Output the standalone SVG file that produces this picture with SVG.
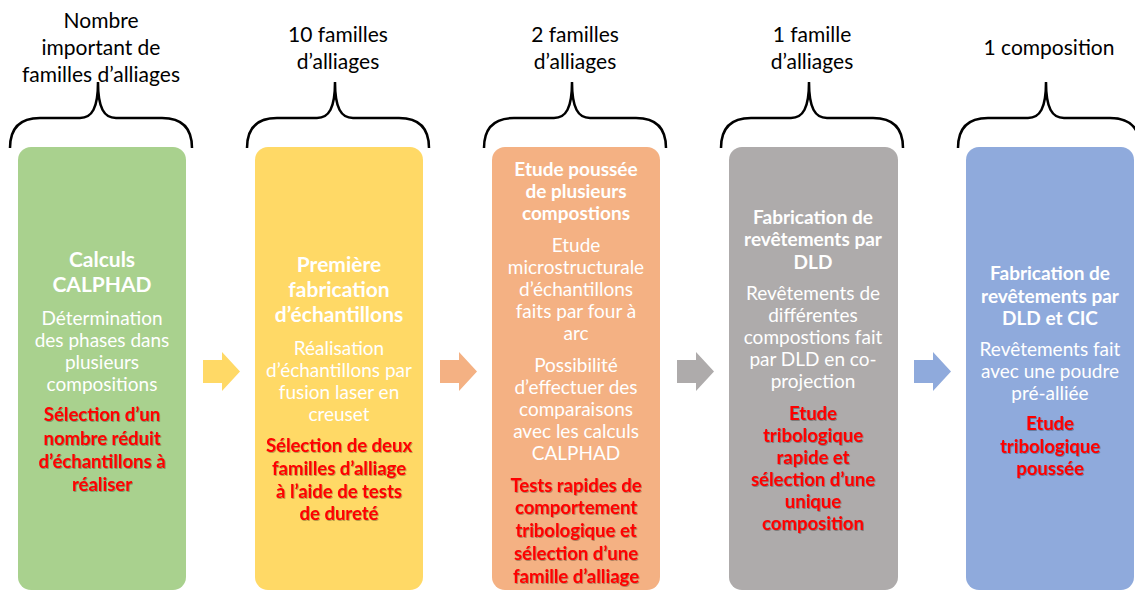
<svg xmlns="http://www.w3.org/2000/svg" width="1135" height="592" viewBox="0 0 1135 592">
<defs>
<filter id="sh" x="-10%" y="-10%" width="120%" height="130%">
<feDropShadow dx="0.8" dy="0.8" stdDeviation="0.6" flood-color="#000" flood-opacity="0.35"/>
</filter>
</defs>
<style>
text{font-family:Lato,"Open Sans","Liberation Sans",sans-serif;text-anchor:middle}
.lbl{font-size:21px;fill:#000}
.ttl{font-weight:bold;fill:#fff}
.t22{font-size:21px}
.t20{font-size:19px}
.body{font-size:19px;fill:#fff}
.red{font-size:18.5px;font-weight:bold;fill:#ff0000;filter:url(#sh)}
.brace{fill:none;stroke:#000;stroke-width:2.5}
</style>
<rect width="1135" height="592" fill="#fff"/>

<g id="braces">
<path class="brace" d="M10,148 C10,128 20,118 40,118 L80,118 C92,118 98,108 98,82 C98,108 104,118 116,118 L162,118 C182,118 192,128 192,148"/>
<path class="brace" d="M247,148 C247,128 257,118 277,118 L317,118 C329,118 335,108 335,82 C335,108 341,118 353,118 L399,118 C419,118 429,128 429,148"/>
<path class="brace" d="M484,148 C484,128 494,118 514,118 L554,118 C566,118 572,108 572,82 C572,108 578,118 590,118 L636,118 C656,118 666,128 666,148"/>
<path class="brace" d="M721,148 C721,128 731,118 751,118 L791,118 C803,118 809,108 809,82 C809,108 815,118 827,118 L873,118 C893,118 903,128 903,148"/>
<path class="brace" d="M958,148 C958,128 968,118 988,118 L1028,118 C1040,118 1046,108 1046,82 C1046,108 1052,118 1064,118 L1110,118 C1130,118 1140,128 1140,148"/>
</g>

<g id="labels">
<text class="lbl" x="101" y="28">Nombre</text>
<text class="lbl" x="101" y="55">important de</text>
<text class="lbl" x="101" y="82">familles d’alliages</text>
<text class="lbl" x="338" y="42">10 familles</text>
<text class="lbl" x="338" y="69">d’alliages</text>
<text class="lbl" x="575" y="42">2 familles</text>
<text class="lbl" x="575" y="69">d’alliages</text>
<text class="lbl" x="812" y="42">1 famille</text>
<text class="lbl" x="812" y="69">d’alliages</text>
<text class="lbl" x="1049" y="55">1 composition</text>
</g>

<g id="connectors">
<polygon fill="#FFD966" points="203,360 222,360 222,352 240,371.5 222,391 222,383 203,383"/>
<polygon fill="#F4B183" points="440,360 459,360 459,352 477,371.5 459,391 459,383 440,383"/>
<polygon fill="#AEABAB" points="677,360 696,360 696,352 714,371.5 696,391 696,383 677,383"/>
<polygon fill="#8FAADC" points="914,360 933,360 933,352 951,371.5 933,391 933,383 914,383"/>
</g>

<g id="node1">
<rect x="18" y="147" width="168" height="443" rx="13" fill="#A9D18E"/>
<text class="ttl t22" x="102" y="267">Calculs</text>
<text class="ttl t22" x="102" y="292">CALPHAD</text>
<text class="body" x="102" y="325">Détermination</text>
<text class="body" x="102" y="347">des phases dans</text>
<text class="body" x="102" y="369">plusieurs</text>
<text class="body" x="102" y="391">compositions</text>
<text class="red" x="102" y="421">Sélection d’un</text>
<text class="red" x="102" y="445">nombre réduit</text>
<text class="red" x="102" y="468">d’échantillons à</text>
<text class="red" x="102" y="491">réaliser</text>
</g>

<g id="node2">
<rect x="255" y="147" width="168" height="443" rx="13" fill="#FFD966"/>
<text class="ttl t22" x="339" y="272">Première</text>
<text class="ttl t22" x="339" y="297">fabrication</text>
<text class="ttl t22" x="339" y="322">d’échantillons</text>
<text class="body" x="339" y="355">Réalisation</text>
<text class="body" x="339" y="377">d’échantillons par</text>
<text class="body" x="339" y="399">fusion laser en</text>
<text class="body" x="339" y="421">creuset</text>
<text class="red" x="339" y="452">Sélection de deux</text>
<text class="red" x="339" y="475">familles d’alliage</text>
<text class="red" x="339" y="498">à l’aide de tests</text>
<text class="red" x="339" y="520">de dureté</text>
</g>

<g id="node3">
<rect x="492" y="147" width="168" height="443" rx="13" fill="#F4B183"/>
<text class="ttl t20" x="576" y="176">Etude poussée</text>
<text class="ttl t20" x="576" y="198">de plusieurs</text>
<text class="ttl t20" x="576" y="220">compostions</text>
<text class="body" x="576" y="252">Etude</text>
<text class="body" x="576" y="274">microstructurale</text>
<text class="body" x="576" y="296">d’échantillons</text>
<text class="body" x="576" y="318">faits par four à</text>
<text class="body" x="576" y="340">arc</text>
<text class="body" x="576" y="372">Possibilité</text>
<text class="body" x="576" y="394">d’effectuer des</text>
<text class="body" x="576" y="416">comparaisons</text>
<text class="body" x="576" y="438">avec les calculs</text>
<text class="body" x="576" y="460">CALPHAD</text>
<text class="red" x="576" y="492">Tests rapides de</text>
<text class="red" x="576" y="514">comportement</text>
<text class="red" x="576" y="537">tribologique et</text>
<text class="red" x="576" y="560">sélection d’une</text>
<text class="red" x="576" y="583">famille d’alliage</text>
</g>

<g id="node4">
<rect x="729" y="147" width="169" height="443" rx="13" fill="#AEABAB"/>
<text class="ttl t20" x="813" y="224">Fabrication de</text>
<text class="ttl t20" x="813" y="246">revêtements par</text>
<text class="ttl t20" x="813" y="269">DLD</text>
<text class="body" x="813" y="300">Revêtements de</text>
<text class="body" x="813" y="322">différentes</text>
<text class="body" x="813" y="344">compostions fait</text>
<text class="body" x="813" y="366">par DLD en co-</text>
<text class="body" x="813" y="388">projection</text>
<text class="red" x="813" y="420">Etude</text>
<text class="red" x="813" y="442">tribologique</text>
<text class="red" x="813" y="464">rapide et</text>
<text class="red" x="813" y="486">sélection d’une</text>
<text class="red" x="813" y="508">unique</text>
<text class="red" x="813" y="530">composition</text>
</g>

<g id="node5">
<rect x="966" y="147" width="168" height="443" rx="13" fill="#8FAADC"/>
<text class="ttl t20" x="1050" y="280">Fabrication de</text>
<text class="ttl t20" x="1050" y="303">revêtements par</text>
<text class="ttl t20" x="1050" y="325">DLD et CIC</text>
<text class="body" x="1050" y="356">Revêtements fait</text>
<text class="body" x="1050" y="378">avec une poudre</text>
<text class="body" x="1050" y="400">pré-alliée</text>
<text class="red" x="1050" y="430">Etude</text>
<text class="red" x="1050" y="453">tribologique</text>
<text class="red" x="1050" y="475">poussée</text>
</g>
</svg>
